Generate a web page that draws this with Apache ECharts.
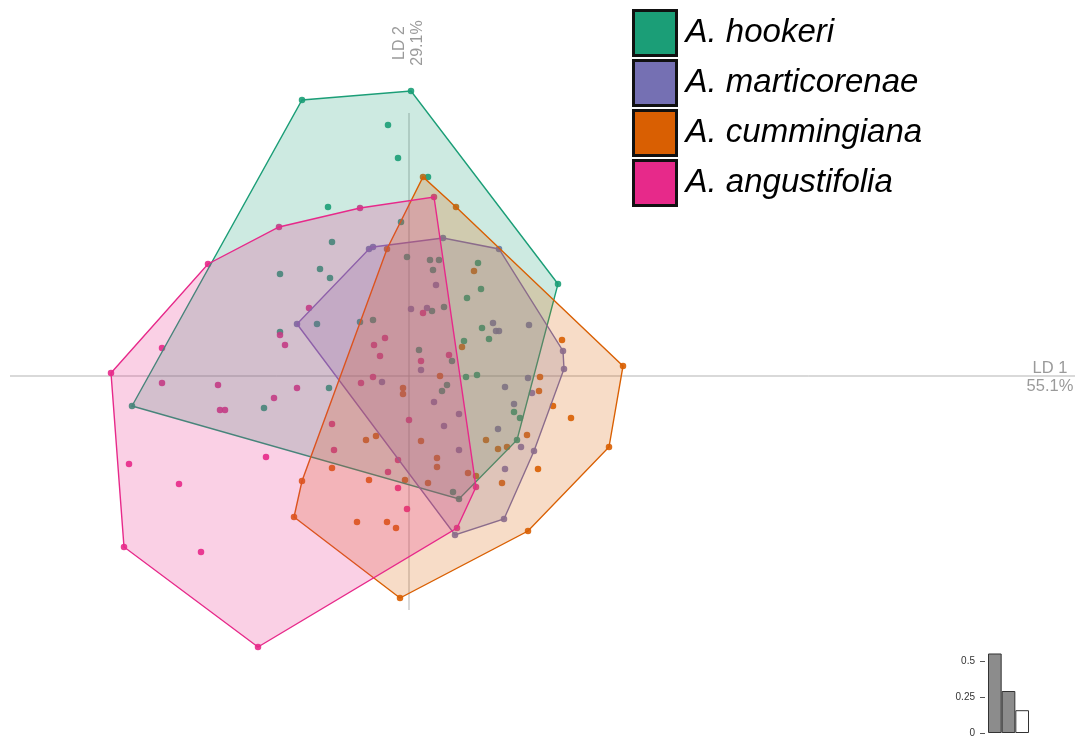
<!DOCTYPE html>
<html>
<head>
<meta charset="utf-8">
<script src="https://cdn.jsdelivr.net/npm/echarts@6/dist/echarts.min.js"></script>
<style>
html, body { margin: 0; padding: 0; background: #fff; }
#main { width: 1079px; height: 738px; }
</style>
</head>
<body>
<div id="main"></div>
<script>
"use strict";
// group names and colours (Dark2)
var groups = ['A. hookeri', 'A. marticorenae', 'A. cummingiana', 'A. angustifolia'];
var colors = ['#1b9e77', '#7570b3', '#d95f02', '#e7298a'];

// LD1 / LD2 scores per group
var hookeri = [[-5.54,-0.60],[-2.14,5.52],[0.04,5.70],[2.98,1.84],[2.16,-1.28],[1.00,-2.46],
    [-0.42,5.02],[-0.22,4.36],[0.38,3.98],[-1.62,3.38],[-1.54,2.68],[-1.78,2.14],[-1.58,1.96],
    [-2.58,2.04],[-0.16,3.08],[-0.04,2.38],[0.42,2.32],[0.60,2.32],[0.48,2.12],[1.16,1.56],
    [1.38,2.26],[1.44,1.74],[1.46,0.96],[1.60,0.74],[1.10,0.70],[-1.84,1.04],[-0.98,1.08],
    [-0.72,1.12],[0.70,1.38],[0.46,1.30],[0.20,0.52],[0.86,0.30],[1.14,-0.02],[1.36,0.02],
    [0.76,-0.18],[0.66,-0.30],[-1.60,-0.24],[-2.58,0.88],[-2.90,-0.64],[0.88,-2.32],
    [2.10,-0.72],[2.22,-0.84]];
var marticorenae = [[-2.24,1.04],[-0.80,2.54],[-0.72,2.58],[0.68,2.76],[1.80,2.54],[3.08,0.50],
    [3.10,0.14],[2.50,-1.50],[1.90,-2.86],[0.92,-3.18],[0.54,1.82],[0.04,1.34],[0.36,1.36],
    [0.24,0.12],[-0.54,-0.12],[1.68,1.06],[1.74,0.90],[1.80,0.90],[2.40,1.02],[2.38,-0.04],
    [1.92,-0.22],[0.50,-0.52],[1.00,-0.76],[0.70,-1.00],[1.00,-1.48],[2.46,-0.34],[2.10,-0.56],
    [1.78,-1.06],[2.24,-1.42],[1.92,-1.86]];
var cummingiana = [[-2.30,-2.82],[-2.14,-2.10],[-0.44,2.54],[0.28,3.98],[0.94,3.38],[4.28,0.20],
    [4.00,-1.42],[2.38,-3.10],[-0.18,-4.44],[1.06,0.58],[0.62,0.00],[-0.12,-0.24],[-0.12,-0.36],
    [1.30,2.10],[3.06,0.72],[2.62,-0.02],[2.60,-0.30],[-0.86,-1.28],[-0.66,-1.20],[0.24,-1.30],
    [0.56,-1.64],[0.56,-1.82],[-1.54,-1.84],[-0.80,-2.08],[-0.08,-2.08],[0.38,-2.14],[1.18,-1.94],
    [-1.04,-2.92],[-0.44,-2.92],[-0.26,-3.04],[2.88,-0.60],[3.24,-0.84],[1.54,-1.28],[1.78,-1.46],
    [1.96,-1.42],[2.36,-1.18],[2.58,-1.86],[1.86,-2.14],[1.34,-2.00]];
var angustifolia = [[-5.96,0.06],[-4.02,2.24],[-2.60,2.98],[-0.98,3.36],[0.50,3.58],[1.34,-2.22],
    [0.96,-3.04],[-3.02,-5.42],[-5.70,-3.42],[-2.00,1.36],[-0.48,0.76],[-0.70,0.62],[-0.58,0.40],
    [0.28,1.26],[0.80,0.42],[0.24,0.30],[-0.72,-0.02],[-0.96,-0.14],[-4.94,0.56],[-2.58,0.82],
    [-2.48,0.62],[-4.94,-0.14],[-3.82,-0.18],[-2.24,-0.24],[-2.70,-0.44],[-3.78,-0.68],
    [-3.68,-0.68],[-5.60,-1.76],[-2.86,-1.62],[-4.60,-2.16],[0.00,-0.88],[-1.54,-0.96],
    [-1.50,-1.48],[-0.22,-1.68],[-0.42,-1.92],[-0.22,-2.24],[-0.04,-2.66],[-4.16,-3.52]];
var groupData = [hookeri, marticorenae, cummingiana, angustifolia];

// axis guides and labels
var ld1Extent = [-7.98, 13.32];
var ld2Extent = [-4.68, 5.26];
var ld1Label = 'LD 1\n55.1%';
var ld2Label = 'LD 2\n29.1%';

// discriminant eigenvalues inset
var eigNames = ['LD 1', 'LD 2', 'LD 3'];
var eigValues = [0.551, 0.291, 0.158];
var eigRetained = [true, true, false];

function rgba(hex, a) {
    var n = parseInt(hex.slice(1), 16);
    return 'rgba(' + (n >> 16 & 255) + ',' + (n >> 8 & 255) + ',' + (n & 255) + ',' + a + ')';
}

// monotone chain convex hull
function convexHull(points) {
    var p = points.slice().sort(function (a, b) { return a[0] - b[0] || a[1] - b[1]; });
    function cross(o, a, b) { return (a[0] - o[0]) * (b[1] - o[1]) - (a[1] - o[1]) * (b[0] - o[0]); }
    var lower = [], upper = [], i;
    for (i = 0; i < p.length; i++) {
        while (lower.length >= 2 && cross(lower[lower.length - 2], lower[lower.length - 1], p[i]) <= 0) lower.pop();
        lower.push(p[i]);
    }
    for (i = p.length - 1; i >= 0; i--) {
        while (upper.length >= 2 && cross(upper[upper.length - 2], upper[upper.length - 1], p[i]) <= 0) upper.pop();
        upper.push(p[i]);
    }
    upper.pop(); lower.pop();
    return lower.concat(upper);
}

var series = [];

// axis cross
series.push({
    type: 'line', name: 'axis1', xAxisIndex: 0, yAxisIndex: 0, silent: true, z: 1,
    symbol: 'none', data: [[ld1Extent[0], 0], [ld1Extent[1], 0]],
    lineStyle: {color: '#b3b3b3', width: 1}
});
series.push({
    type: 'line', name: 'axis2', xAxisIndex: 0, yAxisIndex: 0, silent: true, z: 1,
    symbol: 'none', data: [[0, ld2Extent[0]], [0, ld2Extent[1]]],
    lineStyle: {color: '#b3b3b3', width: 1}
});

groups.forEach(function (g, i) {
    series.push({
        type: 'scatter', name: g, xAxisIndex: 0, yAxisIndex: 0, z: 2,
        symbolSize: 6.5, data: groupData[i],
        itemStyle: {color: colors[i], opacity: 0.9}
    });
});

groups.forEach(function (g, i) {
    var hull = convexHull(groupData[i]);
    series.push({
        type: 'custom', name: 'hull ' + g, xAxisIndex: 0, yAxisIndex: 0, z: 3, silent: true,
        data: [[0, 0]],
        renderItem: function (params, api) {
            var pts = hull.map(function (p) { return api.coord(p); });
            return {
                type: 'polygon',
                shape: {points: pts},
                style: {fill: rgba(colors[i], 0.22), stroke: colors[i], lineWidth: 1.4}
            };
        }
    });
});

// eigenvalue bars
series.push({
    type: 'bar', name: 'eig', xAxisIndex: 1, yAxisIndex: 1, silent: true,
    barCategoryGap: '0%', barGap: '0%',
    data: eigValues.map(function (v, i) {
        return {value: v, itemStyle: {color: eigRetained[i] ? '#8c8c8c' : '#ffffff'}};
    }),
    itemStyle: {borderColor: '#333', borderWidth: 1}
});

var chart = echarts.init(document.getElementById('main'));
chart.setOption({
    animation: false,
    backgroundColor: '#ffffff',
    grid: [
        {left: 0, top: 0, width: 1079, height: 738},
        {left: 988, top: 652.2, width: 41, height: 81.8}
    ],
    xAxis: [
        {type: 'value', gridIndex: 0, min: -8.18, max: 13.4, show: false},
        {type: 'category', gridIndex: 1, data: eigNames, show: false}
    ],
    yAxis: [
        {type: 'value', gridIndex: 0, min: -7.24, max: 7.52, show: false},
        {
            type: 'value', gridIndex: 1, min: 0, max: 0.56, interval: 0.25, offset: 3,
            axisLine: {show: false},
            axisTick: {show: true, length: 5, lineStyle: {color: '#555'}},
            axisLabel: {
                showMaxLabel: false, margin: 10, fontSize: 10, color: '#333',
                fontFamily: 'Liberation Sans',
                formatter: function (v) { return v === 0 ? '0' : String(v); }
            },
            splitLine: {show: false}
        }
    ],
    legend: {
        data: groups,
        orient: 'vertical',
        left: 627, top: 4,
        icon: 'rect',
        itemWidth: 43, itemHeight: 45, itemGap: 2,
        selectedMode: false,
        itemStyle: {borderColor: '#111', borderWidth: 3, opacity: 1},
        textStyle: {
            fontFamily: 'Liberation Sans', fontStyle: 'italic', fontSize: 33,
            color: '#000', lineHeight: 40, padding: [0, 0, 0, 4]
        }
    },
    graphic: [
        {
            type: 'text', x: 1050, y: 377, silent: true,
            style: {
                text: ld1Label, fontSize: 16.5, lineHeight: 18, fill: '#9a9a9a',
                fontFamily: 'Liberation Sans', align: 'center', verticalAlign: 'middle'
            }
        },
        {
            type: 'text', x: 409, y: 43, rotation: Math.PI / 2, silent: true,
            style: {
                text: ld2Label, fontSize: 16, lineHeight: 18, fill: '#9a9a9a',
                fontFamily: 'Liberation Sans', align: 'center', verticalAlign: 'middle'
            }
        }
    ],
    series: series
});
</script>
</body>
</html>
